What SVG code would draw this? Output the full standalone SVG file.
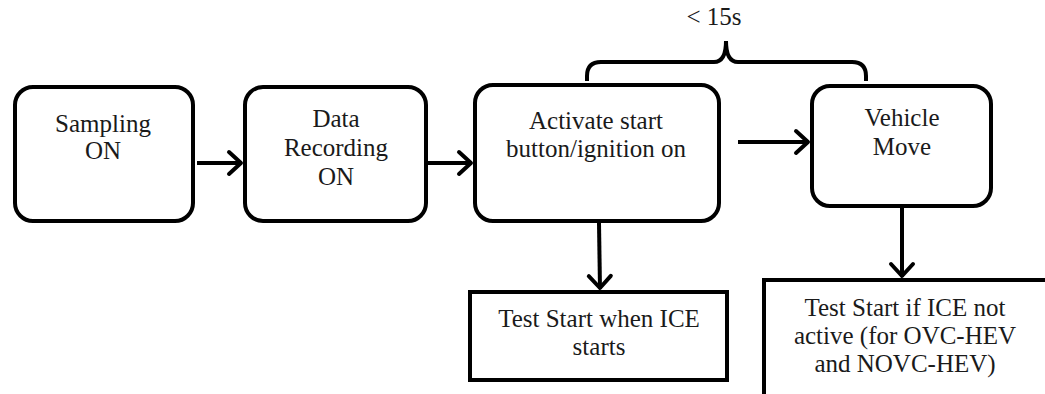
<svg xmlns="http://www.w3.org/2000/svg" width="1045" height="394" viewBox="0 0 1045 394">
  <style>
    .box { fill: #ffffff; stroke: #000000; stroke-width: 4; }
    .lbl { font-family: "Liberation Serif", "Times New Roman", serif; font-size: 25px; fill: #1a1a1a; text-anchor: middle; }
    .conn { fill: none; stroke: #000000; stroke-width: 4; }
  </style>
  <defs>
    <marker id="arrow" markerUnits="userSpaceOnUse" markerWidth="30" markerHeight="30" viewBox="-20 -15 24 30" refX="0" refY="0" orient="auto">
      <path d="M-13,-11 L-1,0 L-13,11" fill="none" stroke="#000000" stroke-width="4" stroke-linecap="round" stroke-linejoin="round"/>
    </marker>
  </defs>
  <rect width="1045" height="394" fill="#ffffff"/>

  <g id="node-sampling">
    <rect class="box" x="15" y="87" width="178" height="134" rx="18" ry="18"/>
    <text class="lbl" x="103" y="132">Sampling</text>
    <text class="lbl" x="103" y="159">ON</text>
  </g>

  <g id="node-recording">
    <rect class="box" x="245" y="87" width="181" height="134" rx="18" ry="18"/>
    <text class="lbl" x="336" y="127">Data</text>
    <text class="lbl" x="336" y="156">Recording</text>
    <text class="lbl" x="336" y="185">ON</text>
  </g>

  <g id="node-activate">
    <rect class="box" x="475" y="85" width="244" height="136" rx="18" ry="18"/>
    <text class="lbl" x="596" y="129">Activate start</text>
    <text class="lbl" x="596" y="157">button/ignition on</text>
  </g>

  <g id="node-vehicle">
    <rect class="box" x="812" y="86" width="179" height="120" rx="18" ry="18"/>
    <text class="lbl" x="902" y="126">Vehicle</text>
    <text class="lbl" x="902" y="155">Move</text>
  </g>

  <g id="node-test-ice">
    <rect class="box" x="470" y="292" width="257" height="88"/>
    <text class="lbl" x="599" y="327">Test Start when ICE</text>
    <text class="lbl" x="599" y="355">starts</text>
  </g>

  <g id="node-test-hev">
    <rect class="box" x="764" y="280" width="290" height="125"/>
    <text class="lbl" x="905" y="316">Test Start if ICE not</text>
    <text class="lbl" x="905" y="344">active (for OVC-HEV</text>
    <text class="lbl" x="905" y="372">and NOVC-HEV)</text>
  </g>

  <g id="timing-brace">
    <path class="conn" d="M587,81 L587,76 Q587,62 601,62 L714,62 Q726,62 726,41 Q726,62 738,62 L852,62 Q866,62 866,76 L866,81"/>
    <text class="lbl" x="714" y="25">&lt; 15s</text>
  </g>

  <g id="connectors">
    <line class="conn" x1="197" y1="163" x2="242" y2="163" marker-end="url(#arrow)"/>
    <line class="conn" x1="428" y1="163" x2="472" y2="163" marker-end="url(#arrow)"/>
    <line class="conn" x1="738" y1="142" x2="809" y2="142" marker-end="url(#arrow)"/>
    <line class="conn" x1="599" y1="223" x2="600" y2="289" marker-end="url(#arrow)"/>
    <line class="conn" x1="902" y1="208" x2="902" y2="277" marker-end="url(#arrow)"/>
  </g>
</svg>
